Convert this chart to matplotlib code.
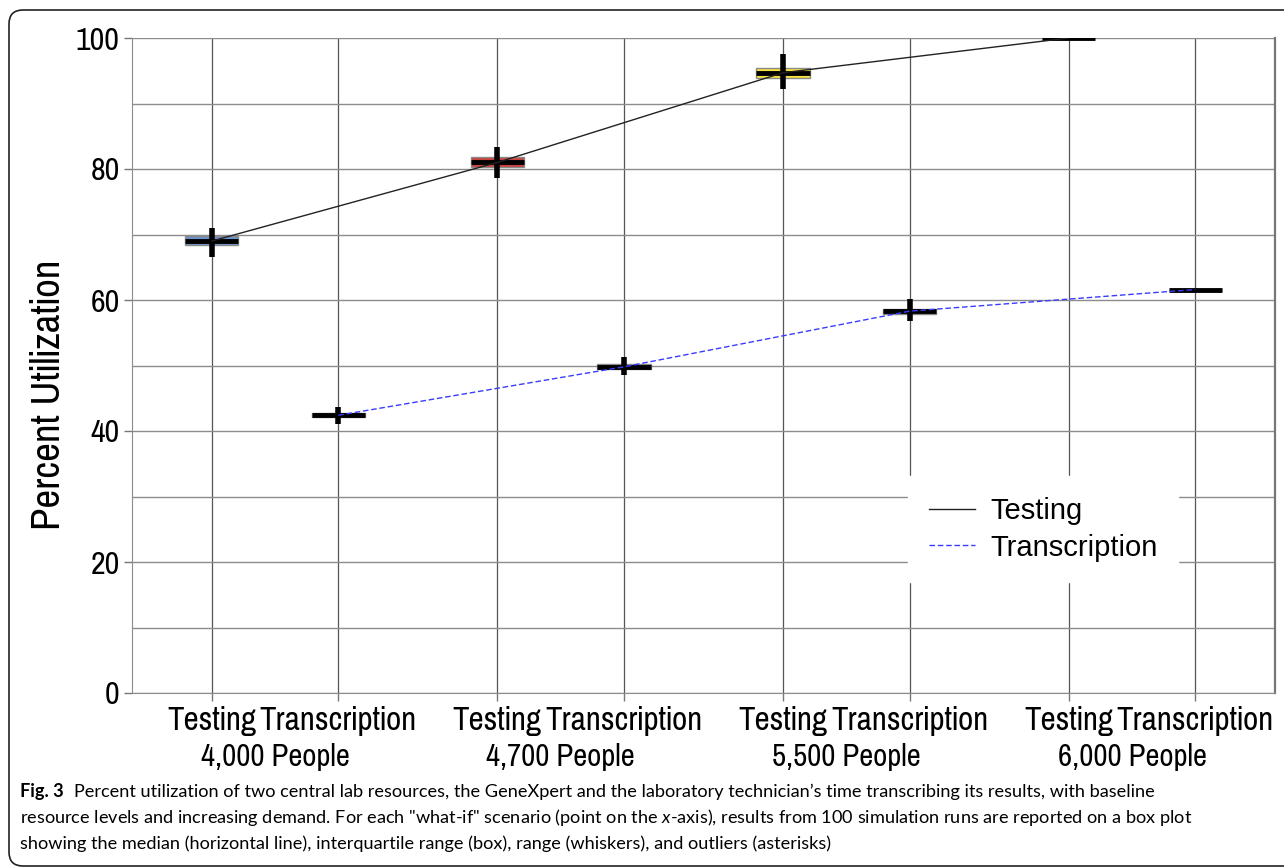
import matplotlib.pyplot as plt
from matplotlib.path import Path
from matplotlib.patches import PathPatch
from matplotlib.transforms import blended_transform_factory, ScaledTranslation

# Simulation results (percent utilization), one entry per box, in order
# Testing/Transcription for each demand level
scenarios = ['4,000 People', '4,700 People', '5,500 People', '6,000 People']
resources = ['Testing', 'Transcription']
med = [69.0, 42.4, 81.0, 49.8, 94.7, 58.3, 100.0, 61.6]
q1 = [68.4, 42.1, 80.3, 49.4, 93.9, 57.9, 100.0, 61.6]
q3 = [69.7, 42.7, 81.8, 50.3, 95.4, 58.7, 100.0, 61.6]
wlo = [66.6, 41.0, 78.7, 48.5, 92.2, 56.8, 100.0, 61.6]
whi = [71.0, 43.7, 83.3, 51.3, 97.6, 60.1, 100.0, 61.6]
fills = ['#6a92cc', '#6a92cc', '#c9423e', '#c9423e', '#f6e43c', '#c9b93a', '#f6e43c', '#f6e43c']

caption1 = ('Percent utilization of two central lab resources, the GeneXpert and the laboratory '
            'technician\u2019s time transcribing its results, with baseline')
caption2 = ('resource levels and increasing demand. For each "what-if" scenario (point on the '
            '$\\mathit{x}$-axis), results from 100 simulation runs are reported on a box plot')
caption3 = ('showing the median (horizontal line), interquartile range (box), range (whiskers), '
            'and outliers (asterisks)')

narrow = ['Nimbus Sans Narrow', 'Arial Narrow', 'Pragati Narrow', 'Roboto Condensed',
          'Archivo Narrow', 'Liberation Sans']
capfont = ['Lato', 'DejaVu Sans']

plt.rcParams['mathtext.fontset'] = 'custom'
plt.rcParams['mathtext.it'] = 'Lato:italic'
plt.rcParams['mathtext.rm'] = 'Lato'

fw, fh = 12.84, 8.68
fig = plt.figure(figsize=(fw, fh), dpi=100, facecolor='w')
ax = fig.add_axes([132 / 1284, 1 - 693 / 868, 1143 / 1284, 655 / 868])

# two boxes per scenario, wider gap between scenarios
gap = 2.257
pos = []
for g in range(len(scenarios)):
    pos += [g * gap, g * gap + 1]

stats = []
for i in range(len(med)):
    stats.append(dict(med=med[i], q1=q1[i], q3=q3[i], whislo=wlo[i], whishi=whi[i], fliers=[]))
bp = ax.bxp(stats, positions=pos, widths=0.42, patch_artist=True, showcaps=False,
            boxprops=dict(edgecolor='#8a8a8a', linewidth=1.0),
            medianprops=dict(color='black', linewidth=3.5, solid_capstyle='butt'),
            whiskerprops=dict(linewidth=0), manage_ticks=False, zorder=3)
for patch, c in zip(bp['boxes'], fills):
    patch.set_facecolor(c)
for m in bp['medians']:
    m.set_zorder(5)
# whiskers drawn as one bar through the box
ax.vlines(pos, wlo, whi, color='black', linewidth=4, zorder=4)

# median trend lines
ax.plot(pos[0::2], med[0::2], color='#222222', linewidth=1, zorder=6, label='Testing')
ax.plot(pos[1::2], med[1::2], color='#3b3bff', linewidth=1, linestyle=(0, (4, 2)),
        zorder=6, label='Transcription')

ax.set_xlim(-0.63, pos[-1] + 0.63)
ax.set_ylim(0, 100)
ax.set_yticks(range(0, 101, 20))
ax.set_yticks(range(10, 100, 20), minor=True)
ax.set_xticks(pos)
ax.set_xticklabels(resources * len(scenarios), fontsize=26, family=narrow)
for t in ax.get_yticklabels():
    t.set_fontsize(25)
    t.set_family(narrow)
ax.tick_params(axis='both', which='major', direction='out', length=6, width=1,
               color='#777777', pad=3)
ax.tick_params(axis='y', which='minor', length=0)
ax.grid(True, which='both', axis='y', color='#8c8c8c', linewidth=1)
ax.grid(True, which='major', axis='x', color='#555555', linewidth=0.9)
ax.set_axisbelow(True)
for s in ['left', 'bottom']:
    ax.spines[s].set_color('#8c8c8c')
ax.spines['right'].set_color('#777777')
ax.spines['right'].set_linewidth(1.6)
ax.spines['top'].set_visible(False)
ax.set_ylabel('Percent Utilization', fontsize=32, family=narrow)
ax.yaxis.set_label_coords(-0.057, 0.455)

# scenario labels under each pair
trans = blended_transform_factory(ax.transData, ax.transAxes) + \
    ScaledTranslation(0, -64 / 100, fig.dpi_scale_trans)
for g, name in enumerate(scenarios):
    ax.text(g * gap + 0.5, 0, name, transform=trans, ha='center', va='center',
            fontsize=24, family=narrow)

leg = ax.legend(loc='center', bbox_to_anchor=(0.797, 0.25),
                prop=dict(family='Liberation Sans', size=21),
                frameon=True, fancybox=False, handlelength=1.6, handletextpad=0.5,
                labelspacing=0.3, borderpad=0.7)
leg.get_frame().set_edgecolor('white')
leg.get_frame().set_facecolor('white')
leg.get_frame().set_alpha(1)
leg.set_zorder(7)

# caption
fs = 13.1
fig.text(20 / 1284, 1 - 792 / 868, 'Fig. 3', fontsize=fs, fontweight='bold',
         family=capfont, va='center')
fig.text(74 / 1284, 1 - 792 / 868, caption1, fontsize=fs, family=capfont, va='center')
fig.text(20 / 1284, 1 - 818 / 868, caption2, fontsize=fs, family=capfont, va='center')
fig.text(20 / 1284, 1 - 844 / 868, caption3, fontsize=fs, family=capfont, va='center')

# frame with rounded left corners, open to the right
W, H = 1284.0, 868.0
x0, top, bot, r = 9 / W, 1 - 10 / H, 1 - 866 / H, 14.0
verts = [(1.2, top), (x0 + r / W, top), (x0, top), (x0, top - r / H),
         (x0, bot + r / H), (x0, bot), (x0 + r / W, bot), (1.2, bot)]
codes = [Path.MOVETO, Path.LINETO, Path.CURVE3, Path.CURVE3,
         Path.LINETO, Path.CURVE3, Path.CURVE3, Path.LINETO]
fig.patches.append(PathPatch(Path(verts, codes), transform=fig.transFigure,
                             facecolor='none', edgecolor='#222222', linewidth=1.2))

plt.savefig('out.png', dpi=100)
